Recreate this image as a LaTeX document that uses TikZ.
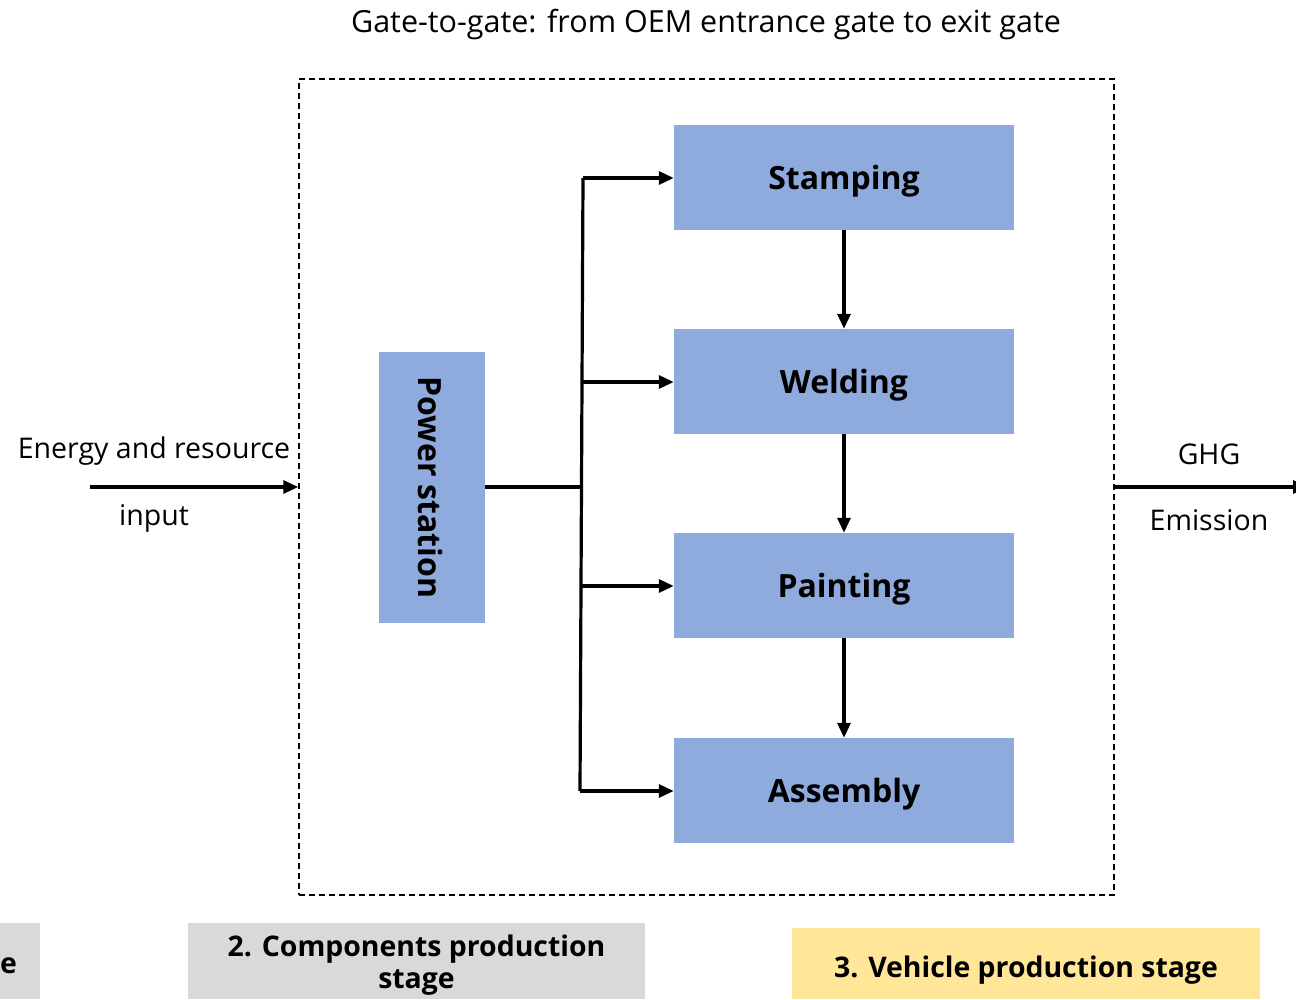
\documentclass[tikz,border=0pt]{standalone}
\usepackage{fontspec}
\setmainfont{Open Sans}
\usetikzlibrary{arrows.meta}
\definecolor{boxblue}{HTML}{8FAADC}
\definecolor{boxgray}{HTML}{D9D9D9}
\definecolor{boxyellow}{HTML}{FFE699}
\tikzset{
  proc/.style={fill=boxblue, draw=none, minimum width=340pt, minimum height=105pt, inner sep=0pt, font=\fontsize{32}{36}\selectfont\bfseries},
  proctext/.style={font=\fontsize{32}{36}\selectfont\bfseries, inner sep=0pt},
  conn/.style={line width=3.2pt, -{Triangle[length=15pt,width=13pt]}},
  plain/.style={line width=3.2pt},
  lbl/.style={font=\fontsize{28.5}{32}\selectfont, inner sep=0pt},
  stage/.style={draw=none, inner sep=0pt, font=\fontsize{28.4}{32}\selectfont\bfseries, align=center}
}
\begin{document}
\begin{tikzpicture}[x=1pt,y=-1pt]
\useasboundingbox (0,0) rectangle (1296,999);
\node[font=\fontsize{30.5}{34}\selectfont, inner sep=0pt] (title) at (706,24) {Gate-to-gate: from OEM entrance gate to exit gate};
\node[draw, line width=1.5pt, dash pattern=on 6pt off 4pt, minimum width=815pt, minimum height=816pt, inner sep=0pt] (gate) at (706.5,487) {};
\node[proc] (stamp) at (844,177.5) {};
\node[proc] (weld) at (844,381.5) {};
\node[proc] (paint) at (844,585.5) {};
\node[proc] (assem) at (844,790.5) {};
\node[proctext] (stampt) at (844,181.5) {Stamping};
\node[proctext] (weldt) at (844,385.5) {Welding};
\node[proctext] (paintt) at (844,589.5) {Painting};
\node[proctext] (assemt) at (844,794) {Assembly};
\node[fill=boxblue, minimum width=106pt, minimum height=271pt, inner sep=0pt] (power) at (432,487.5) {};
\node[rotate=-90, proctext] (powerlbl) at (430,487.5) {Power station};
\coordinate (j) at (581,487);
\coordinate (t1) at (583,178);
\coordinate (t2) at (582,382);
\coordinate (t3) at (581,586);
\coordinate (t4) at (580,791);
\draw[plain] (power.east |- j) -- (j);
\draw[plain] (t1) -- (t4);
\draw[conn] (t1) -- (stamp.west |- t1);
\draw[conn] (t2) -- (weld.west |- t2);
\draw[conn] (t3) -- (paint.west |- t3);
\draw[conn] (t4) -- (assem.west |- t4);
\draw[conn] (stamp) -- (weld);
\draw[conn] (weld) -- (paint);
\draw[conn] (paint) -- (assem);
\coordinate (inS) at (90,487);
\draw[conn] (inS) -- (gate.west |- inS);
\node[lbl] (in1) at (154,451) {Energy and resource};
\node[lbl] (in2) at (154,518) {input};
\coordinate (outE) at (1308,487);
\draw[conn] (gate.east |- outE) -- (outE);
\node[lbl] (ghg) at (1209,454) {GHG};
\node[lbl] (emis) at (1209,520) {Emission};
\node[stage, fill=boxgray, minimum width=80pt, minimum height=76pt] (s1) at (0,961) {};
\node[font=\fontsize{28.4}{31}\selectfont\bfseries, inner sep=0pt, anchor=west] (s1t) at (0,966) {e};
\node[stage, fill=boxgray, minimum width=457pt, minimum height=76pt] (s2) at (416.5,961) {};
\node[stage] (s2t) at (416.5,965) {2. Components production\\stage};
\node[stage, fill=boxyellow, minimum width=468pt, minimum height=71pt] (s3) at (1026,963.5) {};
\node[stage] (s3t) at (1026,970) {3. Vehicle production stage};
\end{tikzpicture}
\end{document}
